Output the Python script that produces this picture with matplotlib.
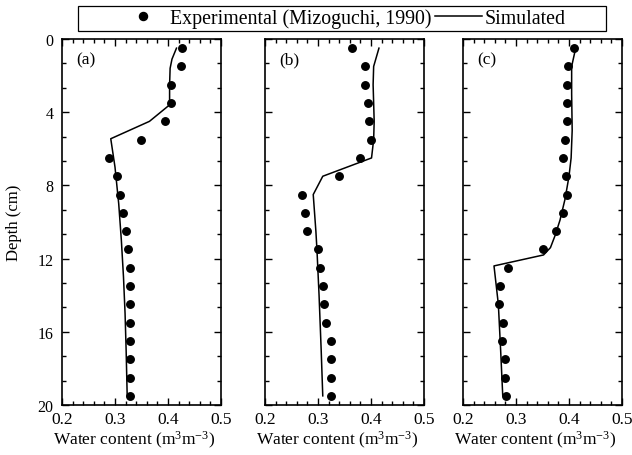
import matplotlib
matplotlib.use("Agg")
import matplotlib.pyplot as plt
from matplotlib.ticker import MultipleLocator
from matplotlib.lines import Line2D
from matplotlib.patches import Rectangle

plt.rcParams['font.family'] = ['Liberation Serif', 'DejaVu Serif']
plt.rcParams['mathtext.fontset'] = 'custom'
plt.rcParams['mathtext.rm'] = 'Liberation Serif'
plt.rcParams['mathtext.it'] = 'Liberation Serif:italic'

# Experimental depths (cm)
exp_depth = [0.5, 1.5, 2.5, 3.5, 4.5, 5.5, 6.5, 7.5, 8.5, 9.5,
             10.5, 11.5, 12.5, 13.5, 14.5, 15.5, 16.5, 17.5, 18.5, 19.5]

# Panel (a)
exp_a = [0.426, 0.425, 0.405, 0.405, 0.394, 0.349, 0.289, 0.304, 0.309, 0.315,
         0.320, 0.324, 0.329, 0.329, 0.329, 0.329, 0.329, 0.329, 0.329, 0.329]
sim_a_depth = [0.5, 1.1, 1.6, 2.5, 3.6, 4.5, 5.45, 7.0, 9.0, 11.0, 13.0, 15.0, 17.0, 19.5]
sim_a = [0.416, 0.4075, 0.404, 0.403, 0.403, 0.365, 0.292, 0.300, 0.307, 0.312, 0.316, 0.319, 0.321, 0.323]

# Panel (b)
exp_b = [0.365, 0.389, 0.389, 0.394, 0.396, 0.400, 0.379, 0.339, 0.269, 0.2755,
         0.280, 0.2995, 0.304, 0.309, 0.312, 0.315, 0.324, 0.324, 0.324, 0.324]
sim_b_depth = [0.5, 1.5, 2.5, 3.5, 4.5, 5.5, 6.5, 7.5, 8.5, 10.5, 11.5, 14.0, 17.0, 19.5]
sim_b = [0.415, 0.405, 0.404, 0.405, 0.406, 0.405, 0.401, 0.309, 0.291, 0.296, 0.298, 0.302, 0.306, 0.309]

# Panel (c)
exp_c = [0.410, 0.399, 0.396, 0.396, 0.396, 0.392, 0.389, 0.394, 0.396, 0.389,
         0.375, 0.350, 0.285, 0.269, 0.2685, 0.275, 0.2735, 0.280, 0.280, 0.281]
sim_c_depth = [0.5, 1.5, 3.0, 5.0, 6.5, 7.5, 8.75, 9.9, 10.75, 11.4, 11.8, 12.4, 14.5, 17.0, 19.5]
sim_c = [0.4126, 0.405, 0.405, 0.406, 0.404, 0.400, 0.3925, 0.383, 0.3736, 0.365, 0.352, 0.2585, 0.2667, 0.271, 0.275]

panels = [("(a)", exp_a, sim_a_depth, sim_a),
          ("(b)", exp_b, sim_b_depth, sim_b),
          ("(c)", exp_c, sim_c_depth, sim_c)]

xticks = [0.2, 0.3, 0.4, 0.5]
yticks = [0, 4, 8, 12, 16, 20]

W, H = 632, 456
fig = plt.figure(figsize=(W / 100, H / 100), dpi=100)
lefts = [62, 265, 463]
for i, (lab, ex, sd, sv) in enumerate(panels):
    ax = fig.add_axes([lefts[i] / W, 1 - 406 / H, 159 / W, 366 / H])
    ax.plot(ex, exp_depth, 'o', color='black', markersize=5.4, zorder=3)
    ax.plot(sv, sd, '-', color='black', linewidth=1.1, zorder=2)
    ax.set_xlim(0.2, 0.5)
    ax.set_ylim(20, 0)
    ax.set_xticks(xticks)
    ax.set_xticklabels([f"{t:.1f}" for t in xticks])
    ax.xaxis.set_minor_locator(MultipleLocator(0.02))
    ax.set_yticks(yticks)
    ax.yaxis.set_minor_locator(MultipleLocator(4 / 3))
    ax.tick_params(which='both', direction='in', top=True, right=True, width=1.0)
    ax.tick_params(axis='x', labelsize=12.5, pad=4)
    ax.tick_params(axis='y', labelsize=11.5, pad=6)
    ax.tick_params(which='major', length=5)
    ax.tick_params(which='minor', length=3)
    for s in ax.spines.values():
        s.set_linewidth(1.2)
    if i == 0:
        ax.set_ylabel("Depth (cm)", fontsize=12)
        ax.yaxis.set_label_coords(-0.25, 0.5)
    else:
        ax.set_yticklabels([])
    ax.set_xlabel(r"Water content (m$^{3}$m$^{-3}$)", fontsize=12.5)
    ax.xaxis.set_label_coords(0.455, -0.065)
    ax.text(0.09, 0.965, lab, transform=ax.transAxes, fontsize=12.5, va='top', ha='left')

# legend frame (wider than its content, as in the reference)
fig.add_artist(Rectangle((78 / W, 1 - 32 / H), (606 - 78) / W, 25 / H,
                         transform=fig.transFigure, facecolor='white',
                         edgecolor='black', linewidth=0.9))
handles = [Line2D([], [], marker='o', color='black', linestyle='none', markersize=5.8),
           Line2D([], [], color='black', linewidth=1.1)]
leg = fig.legend(handles, ["Experimental (Mizoguchi, 1990)", "Simulated"],
                 loc='center left', bbox_to_anchor=(120 / W, 1 - 19.5 / H), ncol=2,
                 frameon=False, fontsize=14.3,
                 handlelength=2.36, handletextpad=0.17, columnspacing=0.15,
                 borderpad=0, borderaxespad=0)

fig.savefig("out.png", dpi=100)
